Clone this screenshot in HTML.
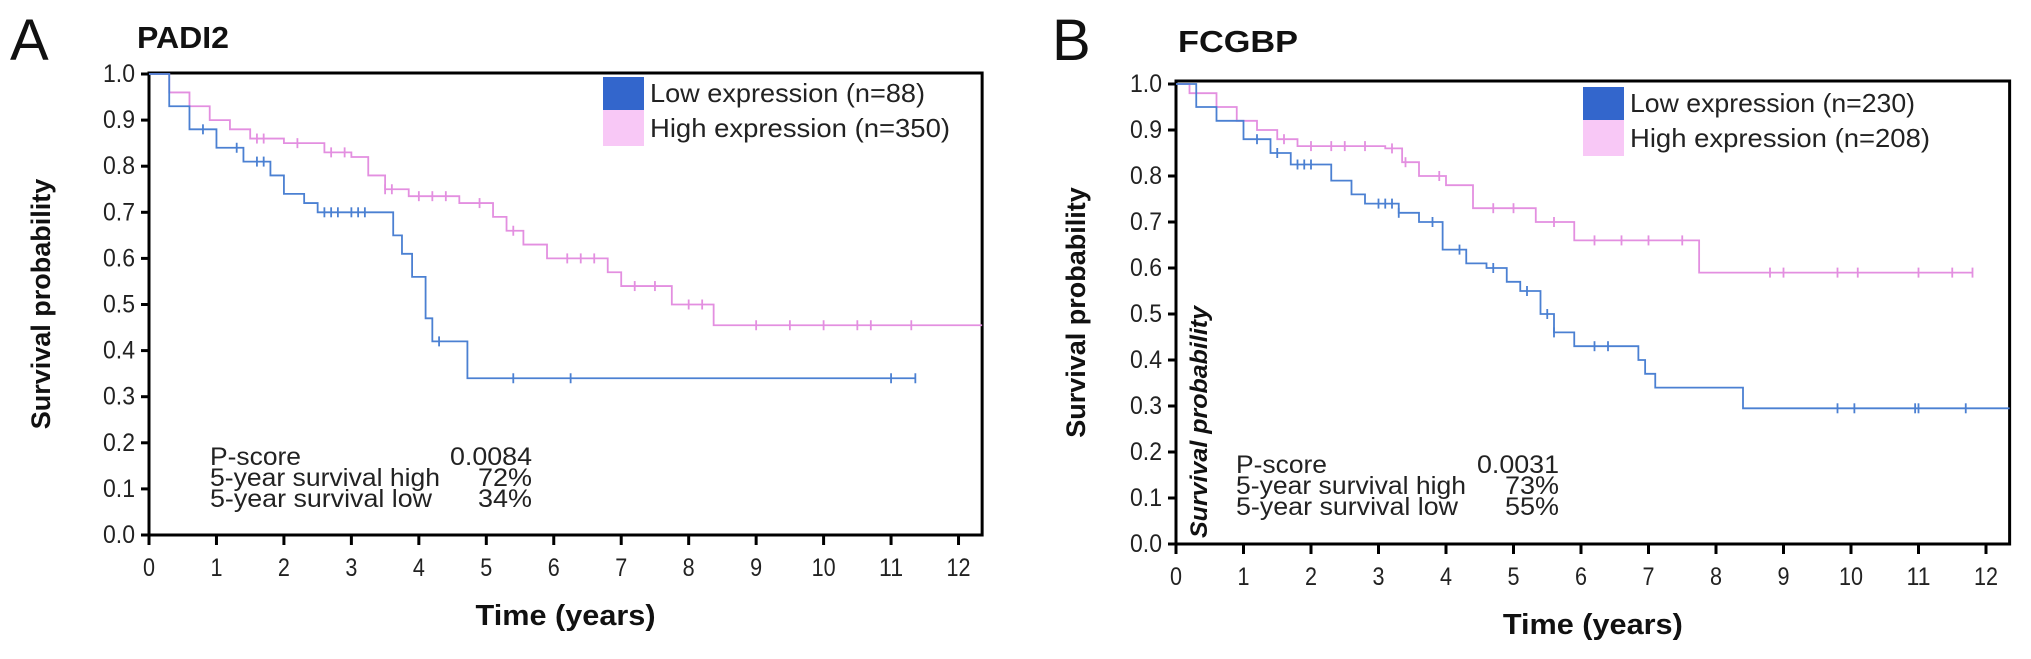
<!DOCTYPE html>
<html><head><meta charset="utf-8"><style>
html,body{margin:0;padding:0;background:#fff;}
svg{display:block;font-family:"Liberation Sans",Arial,sans-serif;}
</style></head><body>
<svg id="c" width="2031" height="659" viewBox="0 0 2031 659"></svg>
<script>
// ---- Panel A data (PADI2) ----
const aLowT = [0,0.3,0.6,1.0,1.4,1.8,2.0,2.3,2.5,3.62,3.75,3.9,4.1,4.2,4.72];
const aLowS = [1.0,0.93,0.88,0.84,0.81,0.78,0.74,0.72,0.70,0.65,0.61,0.56,0.47,0.42,0.34];
const aLowEnd = 11.36;
const aLowCens = [0.8,1.3,1.6,1.7,2.6,2.7,2.8,3.0,3.1,3.2,4.3,5.4,6.25,11.0,11.36];
const aHighT = [0,0.3,0.6,0.9,1.2,1.5,2.0,2.6,3.0,3.25,3.5,3.85,4.6,5.1,5.3,5.55,5.9,6.8,7.0,7.75,8.37];
const aHighS = [1.0,0.96,0.93,0.90,0.88,0.86,0.85,0.83,0.82,0.78,0.75,0.735,0.72,0.69,0.66,0.63,0.60,0.57,0.54,0.50,0.455];
const aHighEnd = 12.35;
const aHighCens = [1.6,1.7,2.2,2.7,2.9,3.5,3.6,4.0,4.2,4.4,4.9,5.4,6.2,6.4,6.6,7.2,7.5,8.0,8.2,9.0,9.5,10.0,10.5,10.7,11.3];
// ---- Panel B data (FCGBP) ----
const bLowT = [0,0.3,0.6,1.0,1.4,1.7,2.3,2.6,2.8,3.3,3.6,3.95,4.3,4.6,4.9,5.1,5.4,5.6,5.9,6.85,6.95,7.1,8.4];
const bLowS = [1.0,0.95,0.92,0.88,0.85,0.825,0.79,0.76,0.74,0.72,0.70,0.64,0.61,0.60,0.57,0.55,0.50,0.46,0.43,0.40,0.37,0.34,0.295];
const bLowEnd = 12.35;
const bLowCens = [1.2,1.5,1.8,1.9,2.0,3.0,3.1,3.2,3.3,3.8,4.2,4.7,5.2,5.5,5.6,6.2,6.4,9.8,10.05,10.95,11.0,11.7];
const bHighT = [0,0.2,0.6,0.9,1.2,1.5,1.8,3.1,3.35,3.6,4.0,4.4,5.33,5.9,7.75];
const bHighS = [1.0,0.98,0.95,0.92,0.90,0.88,0.865,0.86,0.83,0.80,0.78,0.73,0.70,0.66,0.59];
const bHighEnd = 11.8;
const bHighCens = [1.6,2.0,2.3,2.5,2.8,3.2,3.4,3.9,4.7,5.0,5.6,6.2,6.6,7.0,7.5,8.8,9.0,9.8,10.1,11.0,11.5,11.8];
const yTicks = ["0.0","0.1","0.2","0.3","0.4","0.5","0.6","0.7","0.8","0.9","1.0"];
const xTicks = ["0","1","2","3","4","5","6","7","8","9","10","11","12"];

const NS="http://www.w3.org/2000/svg";
const svg=document.getElementById('c');
function mk(tag,attrs,parent,txt){const e=document.createElementNS(NS,tag);for(const k in attrs)e.setAttribute(k,attrs[k]);if(txt!==undefined)e.textContent=txt;(parent||svg).appendChild(e);return e;}

function panel(P){
  const g=mk('g',{});
  
  
  const X=t=>P.x0+t*P.xs, Y=s=>P.y0-s*P.ys;
  const right=X(12.35), top=P.top;
  const fr=mk('rect',{x:P.x0,y:top,width:right-P.x0,height:P.y0-top,fill:'none',stroke:'#000','stroke-width':3},g);
  
  
  yTicks.forEach(lab=>{const v=+lab;
    mk('line',{x1:P.x0-8,x2:P.x0,y1:Y(v),y2:Y(v),stroke:'#000','stroke-width':3},g);
    const t=mk('text',{x:P.x0-14,y:Y(v)+8,'text-anchor':'end','font-size':25,fill:'#222',textLength:32,lengthAdjust:'spacingAndGlyphs'},g,lab);
    
    
  });
  xTicks.forEach(lab=>{const v=+lab;
    mk('line',{x1:X(v),x2:X(v),y1:P.y0,y2:P.y0+10,stroke:'#000','stroke-width':3},g);
    const t=mk('text',{x:X(v),y:P.y0+41,'text-anchor':'middle','font-size':25,fill:'#222',textLength:lab.length*12,lengthAdjust:'spacingAndGlyphs'},g,lab);
    
    
  });
  function curve(T,S,end,C,color,name){
    let d='M'+X(T[0])+','+Y(S[0]);
    for(let i=1;i<T.length;i++){d+=' H'+X(T[i])+' V'+Y(S[i]);}
    d+=' H'+X(end);
    const p=mk('path',{d:d,fill:'none',stroke:color,'stroke-width':1.8},g);
    
    
    C.forEach(c=>{let s=S[0];for(let i=0;i<T.length;i++)if(T[i]<=c)s=S[i];
      const m=mk('line',{x1:X(c),x2:X(c),y1:Y(s)-5,y2:Y(s)+5,stroke:color,'stroke-width':1.8},g);
      
      
    });
  }
  curve(P.hT,P.hS,P.hE,P.hC,'#e38fe0','high-expression');
  curve(P.lT,P.lS,P.lE,P.lC,'#4b80d2','low-expression');
  const L=mk('text',{x:P.lx,y:60,'font-size':58,fill:'#111'},g,P.letter);
  
  
  const T=mk('text',{x:P.tx,y:P.ty,'font-size':31,'font-weight':'bold',fill:'#111',textLength:P.tw,lengthAdjust:'spacingAndGlyphs'},g,P.title);
  
  
  const yl=mk('text',{x:0,y:0,'font-size':27,'font-weight':'bold','text-anchor':'middle',fill:'#111',transform:'translate('+P.ylx+','+((top+P.y0)/2)+') rotate(-90)'},g,'Survival probability');
  
  
  const xl=mk('text',{x:(P.x0+right)/2,y:P.y0+90,'font-size':29,'font-weight':'bold','text-anchor':'middle',fill:'#111',textLength:180,lengthAdjust:'spacingAndGlyphs'},g,'Time (years)');
  
  
  const lg=mk('g',{},g);
  
  
  mk('rect',{x:P.lgx,y:P.lgy,width:41,height:33,fill:'#3366cc'},lg);
  mk('rect',{x:P.lgx,y:P.lgy+33,width:41,height:36,fill:'#f8c8f6'},lg);
  const e1=mk('text',{x:P.lgx+47,y:P.lgy+25,'font-size':26,fill:'#222',textLength:P.lw1,lengthAdjust:'spacingAndGlyphs'},lg,P.low);
  
  
  const e2=mk('text',{x:P.lgx+47,y:P.lgy+60,'font-size':26,fill:'#222',textLength:P.lw2,lengthAdjust:'spacingAndGlyphs'},lg,P.high);
  
  
  const st=mk('g',{'font-size':25,fill:'#222'},g);
  
  
  const rows=[['P-score',P.p,91,82],['5-year survival high',P.h5,230,54],['5-year survival low',P.l5,222,54]];
  rows.forEach((r,i)=>{
    mk('text',{x:P.sx,y:P.sy+i*21,textLength:r[2],lengthAdjust:'spacingAndGlyphs'},st,r[0]);
    mk('text',{x:P.sv-r[3],y:P.sy+i*21,textLength:r[3],lengthAdjust:'spacingAndGlyphs'},st,r[1]);
  });
  if(P.italic){
    const it=mk('text',{x:0,y:0,'font-size':24,'font-weight':'bold','font-style':'italic','text-anchor':'start',fill:'#111',transform:'translate('+(P.x0+31)+','+(P.y0-6)+') rotate(-90)',textLength:232,lengthAdjust:'spacingAndGlyphs'},g,'Survival probability');
    
    
  }
}
panel({id:'padi2',x0:149,xs:67.46,y0:535,ys:461,top:73,letter:'A',lx:10,title:'PADI2',tx:137,ty:48,tw:92,ylx:50,
  lT:aLowT,lS:aLowS,lE:aLowEnd,lC:aLowCens,hT:aHighT,hS:aHighS,hE:aHighEnd,hC:aHighCens,
  lgx:603,lgy:77,low:'Low expression (n=88)',high:'High expression (n=350)',lw1:275,lw2:300,
  sx:210,sy:465,sv:532,p:'0.0084',h5:'72%',l5:'34%'});
panel({id:'fcgbp',x0:1176,xs:67.5,y0:544,ys:460,top:81,letter:'B',lx:1052,title:'FCGBP',tx:1178,ty:52,tw:120,ylx:1085,
  lT:bLowT,lS:bLowS,lE:bLowEnd,lC:bLowCens,hT:bHighT,hS:bHighS,hE:bHighEnd,hC:bHighCens,
  lgx:1583,lgy:87,low:'Low expression (n=230)',high:'High expression (n=208)',lw1:285,lw2:300,
  sx:1236,sy:473,sv:1559,p:'0.0031',h5:'73%',l5:'55%',italic:true});
</script>
</body></html>
